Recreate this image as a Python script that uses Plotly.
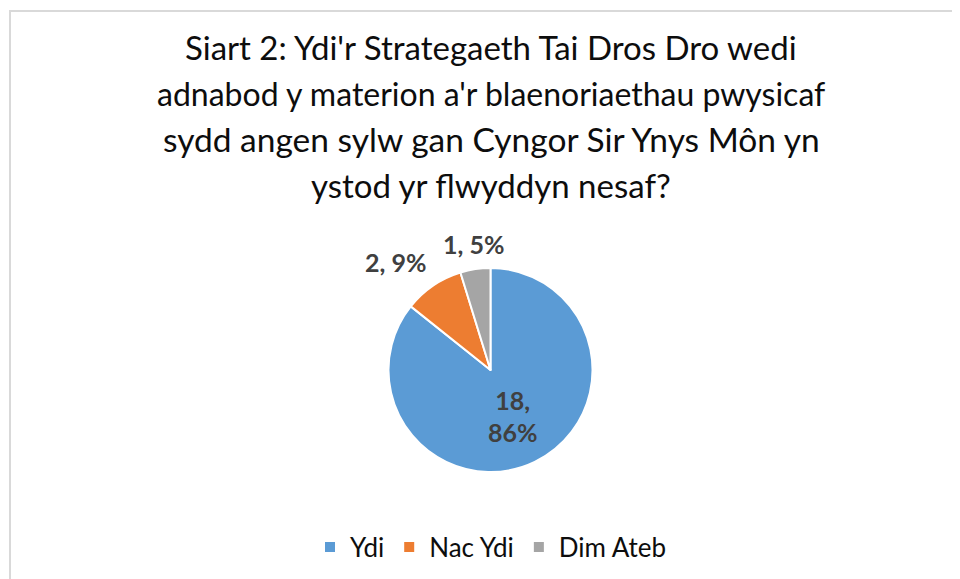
import plotly.graph_objects as go

W, H = 960, 579
OFF = 8  # page body margin in the browser

# ---- data ----
categories = ["Ydi", "Nac Ydi", "Dim Ateb"]
counts = [18, 2, 1]
percent_labels = ["86%", "9%", "5%"]
colors = ["#5B9BD5", "#ED7D31", "#A5A5A5"]
title_lines = [
    "Siart 2: Ydi'r Strategaeth Tai Dros Dro wedi",
    "adnabod y materion a'r blaenoriaethau pwysicaf",
    "sydd angen sylw gan Cyngor Sir Ynys Môn yn",
    "ystod yr flwyddyn nesaf?",
]

FONT = "Lato"

def px_x(sx):
    return (sx - OFF) / W

def px_y(sy):
    return 1 - (sy - OFF) / H

slice_text = [f"{c},<br>{p}" for c, p in zip(counts, percent_labels)]

# pie geometry (screen pixels)
cx, cy, r = 490.5, 370, 102

fig = go.Figure(go.Pie(
    labels=categories,
    values=counts,
    text=[slice_text[0], "", ""],
    textinfo="text",
    textposition=["inside", "none", "none"],
    insidetextorientation="horizontal",
    sort=False,
    direction="clockwise",
    rotation=0,
    marker=dict(colors=colors, line=dict(color="white", width=2)),
    textfont=dict(family=FONT, size=25, color="#404040", weight="bold"),
    domain=dict(x=[px_x(cx - r), px_x(cx + r)], y=[px_y(cy + r), px_y(cy - r)]),
    hoverinfo="label+value+percent",
))

annotations = []
title_y = [47, 93, 139, 185]
title_sizes = [33, 32, 33.5, 33]
for line, ty, ts in zip(title_lines, title_y, title_sizes):
    annotations.append(dict(
        text=line, x=px_x(491), y=px_y(ty), xref="paper", yref="paper",
        xanchor="center", yanchor="middle", showarrow=False,
        font=dict(family=FONT, size=ts, color="#0d0d0d"),
    ))

# outside labels for the small slices
outside_pos = {1: (395.5, 262), 2: (473, 244)}
for i, (lx, ly) in outside_pos.items():
    annotations.append(dict(
        text=f"{counts[i]}, {percent_labels[i]}", x=px_x(lx), y=px_y(ly),
        xref="paper", yref="paper", xanchor="center", yanchor="middle",
        showarrow=False,
        font=dict(family=FONT, size=25, color="#404040", weight="bold"),
    ))

fig.update_layout(
    width=W, height=H,
    margin=dict(l=0, r=0, t=0, b=0),
    paper_bgcolor="white",
    plot_bgcolor="white",
    showlegend=True,
    legend=dict(
        orientation="h", x=px_x(491), xanchor="center", y=px_y(547), yanchor="middle",
        font=dict(family=FONT, size=26, color="#0d0d0d"),
        itemclick=False,
    ),
    annotations=annotations,
    shapes=[dict(
        type="rect", xref="paper", yref="paper",
        x0=px_x(10), x1=px_x(1000), y0=px_y(620), y1=px_y(11),
        line=dict(color="#D9D9D9", width=2), fillcolor="rgba(0,0,0,0)",
    )],
)

fig.write_html("out.html")
